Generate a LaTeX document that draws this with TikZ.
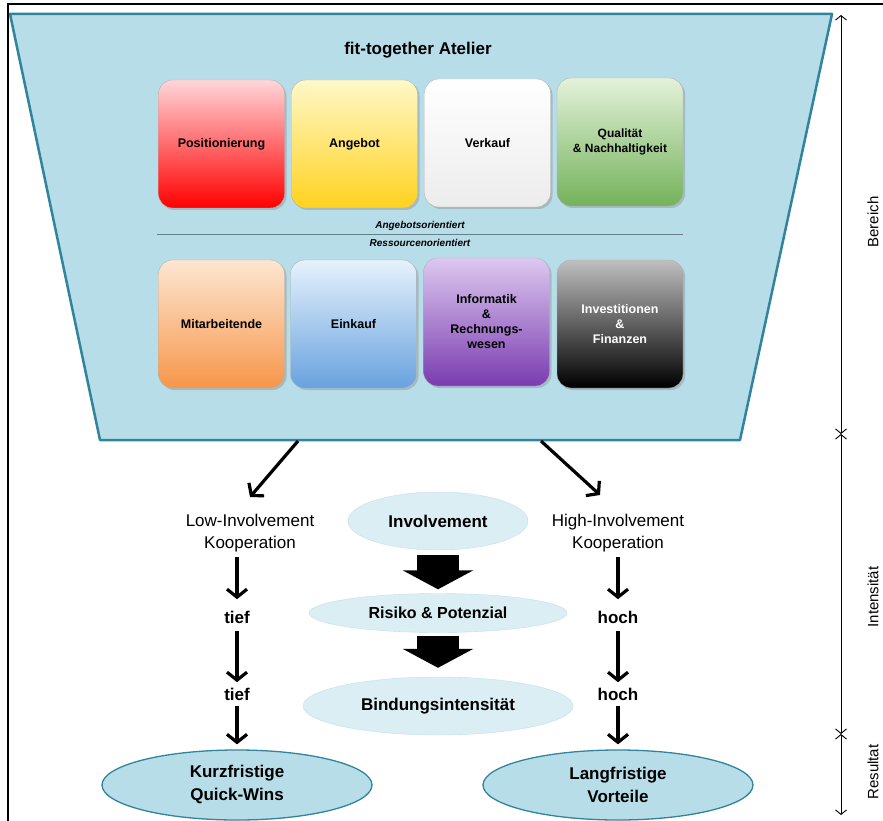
\documentclass[tikz,border=0pt]{standalone}
\usepackage{fontspec}
\setmainfont{Liberation Sans}
\usetikzlibrary{arrows.meta,shapes.geometric,shadows}

\definecolor{funnelfill}{HTML}{B7DDE8}
\definecolor{funneldraw}{HTML}{31849B}
\definecolor{palefill}{HTML}{DAEEF3}
\definecolor{paledraw}{HTML}{C3E0EA}
\definecolor{redtop}{HTML}{FFD6DA}
\definecolor{yellowtop}{HTML}{FFF8C8}
\definecolor{yellowbot}{HTML}{FFD21F}
\definecolor{greentop}{HTML}{E3F2DA}
\definecolor{greenbot}{HTML}{74B25A}
\definecolor{orangetop}{HTML}{FDE6D2}
\definecolor{orangebot}{HTML}{F7964A}
\definecolor{bluetop}{HTML}{E6F2FD}
\definecolor{bluebot}{HTML}{68A2DE}
\definecolor{purpletop}{HTML}{DDC8F0}
\definecolor{purplebot}{HTML}{7A3CB0}

\begin{document}
\begin{tikzpicture}[x=1pt, y=-1pt,
    tile/.style={rounded corners=14pt, draw=gray!60, minimum width=126pt,
        minimum height=128pt, align=center,
        font=\fontsize{12.5}{15}\selectfont\bfseries,
        drop shadow={opacity=0.35, shadow xshift=2pt, shadow yshift=-2pt}},
    paleoval/.style={ellipse, fill=palefill, draw=paledraw, inner sep=0pt,
        font=\fontsize{17}{21}\selectfont\bfseries},
    resultoval/.style={ellipse, fill=funnelfill, draw=funneldraw, line width=1.3pt,
        inner sep=0pt, minimum width=270pt, minimum height=70pt, align=center,
        font=\fontsize{17}{23}\selectfont\bfseries},
    step arrow/.style={line width=3.2pt, -{Straight Barb[length=8pt, width=20pt]}},
    block arrow/.style={line width=42pt, black, -{Triangle[length=19pt, width=70pt]}},
    scale arrow/.style={line width=0.9pt,
        {Straight Barb[length=4.5pt, width=11pt]}-{Straight Barb[length=4.5pt, width=11pt]}},
    ]
    \useasboundingbox (0,0) rectangle (883,821);

    % Rahmen
    \draw[line width=1.5pt] (8,821) -- (8,4) -- (883,4);

    % Trichter
    \draw[fill=funnelfill, draw=funneldraw, line width=2.5pt, line join=round]
        (10,14) -- (832,14) -- (740,440) -- (100,440) -- cycle;
    \node[font=\fontsize{17}{20}\selectfont\bfseries] (title) at (418,50) {fit-together Atelier};

    % Bereiche (angebotsorientiert)
    \node[tile, top color=redtop, bottom color=red] (pos) at (221.5,144) {Positionierung};
    \node[tile, top color=yellowtop, bottom color=yellowbot] (ang) at (354.5,144) {Angebot};
    \node[tile, top color=white, bottom color=gray!15] (verk) at (487.5,143) {Verkauf};
    \node[tile, top color=greentop, bottom color=greenbot,
        font=\fontsize{12}{14.5}\selectfont\bfseries] (qual) at (620,142)
        {Qualität\\\& Nachhaltigkeit};

    % Trennlinie
    \coordinate (sepL) at (157,234);
    \coordinate (sepR) at (683,234);
    \draw[gray!70!funneldraw, line width=0.8pt] (sepL) -- (sepR);
    \node[font=\fontsize{10}{12}\selectfont\bfseries\itshape] (angor) at (420,226) {Angebotsorientiert};
    \node[font=\fontsize{10}{12}\selectfont\bfseries\itshape] (resor) at (420,243) {Ressourcenorientiert};

    % Bereiche (ressourcenorientiert)
    \node[tile, top color=orangetop, bottom color=orangebot] (mit) at (221.5,324) {Mitarbeitende};
    \node[tile, top color=bluetop, bottom color=bluebot] (eink) at (353.5,324) {Einkauf};
    \node[tile, top color=purpletop, bottom color=purplebot] (info) at (486.5,322)
        {Informatik\\\&\\Rechnungs-\\wesen};
    \node[tile, top color=gray!50, bottom color=black, text=white] (inv) at (620,324)
        {Investitionen\\\&\\Finanzen};

    % Kooperationsformen
    \coordinate (fl) at (298,441);
    \coordinate (fr) at (541,441);
    \coordinate (lowtip) at (250,497);
    \coordinate (hightip) at (600,495);
    \draw[step arrow] (fl) -- (lowtip);
    \draw[step arrow] (fr) -- (hightip);
    \node[align=center, font=\fontsize{17}{22}\selectfont] (low) at (250,533) {Low-Involvement\\Kooperation};
    \node[align=center, font=\fontsize{17}{22}\selectfont] (high) at (618,533) {High-Involvement\\Kooperation};

    % Mitte
    \node[paleoval, minimum width=180pt, minimum height=58pt] (invol) at (438,521) {Involvement};
    \node[paleoval, minimum width=258pt, minimum height=39pt,
        font=\fontsize{16}{20}\selectfont\bfseries] (risk) at (438,613) {Risiko \& Potenzial};
    \node[paleoval, minimum width=270pt, minimum height=58pt] (bind) at (438,706) {Bindungsintensität};
    \draw[block arrow, shorten <=5pt, shorten >=4pt] (invol) -- (risk);
    \draw[block arrow, shorten <=3pt, shorten >=9pt] (risk) -- (bind);

    % tief / hoch
    \node[font=\fontsize{17}{20}\selectfont\bfseries] (tiefA) at (237,617) {tief};
    \node[font=\fontsize{17}{20}\selectfont\bfseries] (tiefB) at (237,694) {tief};
    \node[font=\fontsize{17}{20}\selectfont\bfseries] (hochA) at (618,617) {hoch};
    \node[font=\fontsize{17}{20}\selectfont\bfseries] (hochB) at (618,694) {hoch};

    % Resultate
    \node[resultoval] (kurz) at (237,785) {Kurzfristige\\Quick-Wins};
    \node[resultoval] (lang) at (618,785) {Langfristige\\Vorteile};

    \draw[step arrow, shorten <=2pt, shorten >=8pt] (low.south -| tiefA) -- (tiefA);
    \draw[step arrow, shorten <=4pt, shorten >=2pt] (tiefA) -- (tiefB);
    \draw[step arrow, shorten <=2pt, shorten >=5pt] (tiefB) -- (kurz);
    \draw[step arrow, shorten <=2pt, shorten >=8pt] (high.south) -- (hochA);
    \draw[step arrow, shorten <=4pt, shorten >=2pt] (hochA) -- (hochB);
    \draw[step arrow, shorten <=2pt, shorten >=5pt] (hochB) -- (lang);

    % Skala rechts
    \coordinate (ax1) at (841,15);
    \coordinate (ax2) at (841,434);
    \coordinate (ax3) at (841,734);
    \coordinate (ax4) at (841,815);
    \draw[scale arrow] (ax1) -- (ax2);
    \draw[scale arrow] (ax2) -- (ax3);
    \draw[scale arrow] (ax3) -- (ax4);
    \node[rotate=90, font=\fontsize{15}{18}\selectfont] (ber) at (873,222) {Bereich};
    \node[rotate=90, font=\fontsize{15}{18}\selectfont] (int) at (873,597) {Intensität};
    \node[rotate=90, font=\fontsize{15}{18}\selectfont] (res) at (873,772) {Resultat};
\end{tikzpicture}
\end{document}
